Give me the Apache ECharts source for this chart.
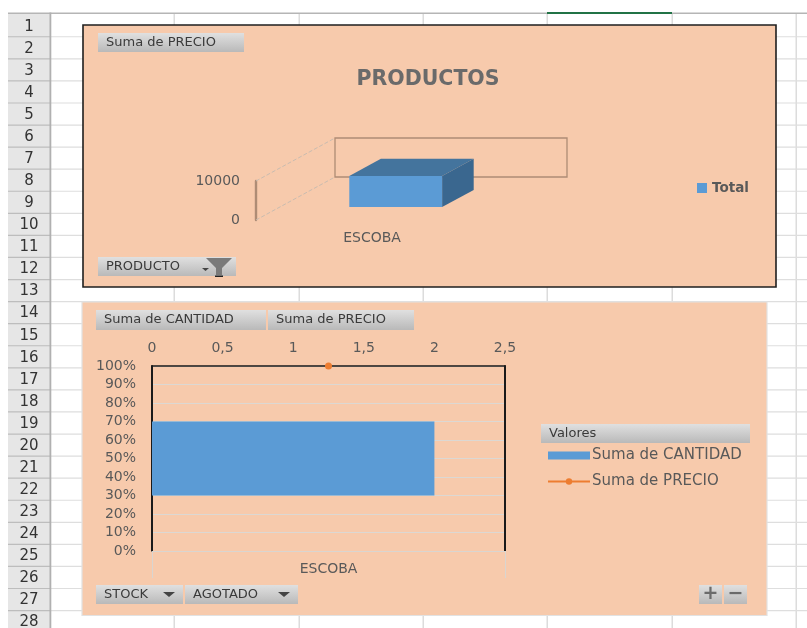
<!DOCTYPE html>
<html><head><meta charset="utf-8">
<style>html,body{margin:0;padding:0;background:#fff}#c{width:807px;height:628px;filter:blur(0.45px)}</style>
<script src="https://cdn.jsdelivr.net/npm/echarts@6/dist/echarts.min.js"></script>
</head><body><div id="c"></div>
<script>
// Data
const productCategories = ['ESCOBA'];
const precioTotals = [8000];
const cantidadValues = [2];
const precioShare = [1];
const topAxisTicks = [0, 10000];
const rowLabels = Array.from({length: 28}, (_, i) => String(i + 1));

const FONT = 'DejaVu Sans';
const TXT = '#595959';
const PANEL = '#f7caac';
const BLUE = '#5b9bd5';
const ORANGE = '#ed7d31';
const chart = echarts.init(document.getElementById('c'), null, {renderer: 'canvas'});

// Spreadsheet chrome and pivot buttons
const g = [];
const Z = -20;
const btnFill = new echarts.graphic.LinearGradient(0, 0, 0, 1, [{offset: 0, color: '#e0e0e0'}, {offset: 1, color: '#b9b9b9'}]);
function rect(x, y, w, h, fill, stroke, lw, z) {
  g.push({type: 'rect', z: z === undefined ? Z : z, shape: {x, y, width: w, height: h}, style: {fill: fill || 'none', stroke: stroke || null, lineWidth: lw || 0}, silent: true});
}
function text(x, y, t, size, color, align, weight) {
  g.push({type: 'text', z: Z + 5, x, y, style: {text: t, font: (weight || 'normal') + ' ' + size + 'px "' + FONT + '"', fill: color, align: align || 'left', verticalAlign: 'middle'}, silent: true});
}
function poly(points, fill) {
  g.push({type: 'polygon', z: Z + 5, shape: {points}, style: {fill}, silent: true});
}
function button(x, y, w, h, label) {
  rect(x, y, w, h, btnFill, null, 0, Z + 4);
  if (label) text(x + 8, y + h / 2, label, 13, '#3a3a3a');
}
rect(8, 14, 42, 614, '#e6e6e6');
[174, 299, 423, 547, 672, 796].forEach(x => rect(x - 0.5, 14, 1.5, 614, '#dcdcdc'));
rowLabels.forEach((r, i) => {
  const y = 14.6 + 22.07 * (i + 1);
  rect(50, y - 0.5, 757, 1.2, '#dedede');
  rect(8, y - 0.5, 42, 1.2, '#bdbdbd');
  text(29, y - 10, r, 15, '#333', 'center');
});
rect(8, 12.5, 799, 1.6, '#b5b5b5');
rect(547, 12, 125, 2, '#217346', null, 0, Z + 1);
rect(49.5, 12.5, 1.8, 616, '#b0b0b0');

rect(83, 25, 693, 262, PANEL, '#1f1f1f', 1.6, Z + 2);
rect(82, 302, 685, 313.5, PANEL, '#e2e2e2', 1.2, Z + 2);

button(98, 33, 146, 19, 'Suma de PRECIO');
button(98, 257, 138, 19, 'PRODUCTO');
poly([[206, 258], [232, 258], [222, 268], [222, 275], [216, 275], [216, 268]], '#7a7a7a');
poly([[202, 268], [209, 268], [205.5, 271]], '#444');
rect(215, 275.5, 8, 1.5, '#222', null, 0, Z + 5);
button(96, 310, 170, 20, 'Suma de CANTIDAD');
button(268, 310, 146, 20, 'Suma de PRECIO');
button(96, 585, 87, 19, 'STOCK');
poly([[163, 592], [175, 592], [169, 597]], '#444');
button(185, 585, 113, 19, 'AGOTADO');
poly([[278, 592], [290, 592], [284, 597]], '#444');
button(541, 424, 209, 19, 'Valores');
button(699, 585, 23, 19);
button(724, 585, 23, 19);
text(710.5, 594.5, '+', 19, '#6b6b6b', 'center', 'bold');
text(735.5, 594, '−', 19, '#6b6b6b', 'center', 'bold');

// Oblique offset of the pseudo-3D plot
const DEPTH_X = 79, DEPTH_Y = 43, WALL = '#ae8c75';

function renderWall(params, api) {
  const lo = api.coord([0, 0]);
  const hi = api.coord([0, topAxisTicks[1]]);
  const band = api.size([1, 0])[0];
  const fx = lo[0] - band / 2;
  const wall = {x: fx + DEPTH_X, y: hi[1] - DEPTH_Y, width: band, height: lo[1] - hi[1]};
  const dash = {stroke: '#c9bcb0', lineWidth: 1, lineDash: [4, 2]};
  return {type: 'group', children: [
    {type: 'rect', shape: wall, style: {fill: 'none', stroke: WALL, lineWidth: 1.3}},
    {type: 'line', shape: {x1: fx, y1: hi[1], x2: fx + DEPTH_X, y2: hi[1] - DEPTH_Y}, style: dash},
    {type: 'line', shape: {x1: fx, y1: lo[1], x2: fx + DEPTH_X, y2: lo[1] - DEPTH_Y}, style: dash}
  ]};
}
function renderBar3D(params, api) {
  const base = api.coord([api.value(0), 0]);
  const top = api.coord([api.value(0), api.value(1)]);
  const band = api.size([1, 0])[0];
  const w = band * 0.4, ox = DEPTH_X * 0.3, oy = DEPTH_Y * 0.3, dx = DEPTH_X * 0.4, dy = DEPTH_Y * 0.4;
  const l = base[0] - w / 2 + ox, r = l + w, b = base[1] - oy, t = top[1] - oy;
  return {type: 'group', children: [
    {type: 'polygon', shape: {points: [[l, t], [l + dx, t - dy], [r + dx, t - dy], [r, t]]}, style: {fill: '#44749d'}},
    {type: 'polygon', shape: {points: [[r, t], [r + dx, t - dy], [r + dx, b - dy], [r, b]]}, style: {fill: '#3a678f'}},
    {type: 'rect', shape: {x: l, y: t, width: w, height: b - t}, style: {fill: BLUE}}
  ]};
}

const labelStyle = {color: TXT, fontFamily: FONT, fontSize: 14};

chart.setOption({
  animation: false,
  backgroundColor: '#ffffff',
  graphic: {elements: g},
  title: {text: 'PRODUCTOS', left: 428, top: 69, padding: 0, textAlign: 'center',
    textStyle: {color: '#6a6a6a', fontFamily: FONT, fontSize: 20.5, fontWeight: 'bold'}},
  legend: [
    {data: [{name: 'Total', icon: 'rect'}], left: 692, top: 176, itemWidth: 10, itemHeight: 10, itemGap: 0,
      textStyle: {color: TXT, fontFamily: FONT, fontSize: 13.5, fontWeight: 'bold', padding: [-3, 0, 0, 0]}},
    {data: [{name: 'Suma de CANTIDAD', icon: 'rect'}, {name: 'Suma de PRECIO'}], orient: 'vertical', left: 547, top: 448, padding: 0, itemGap: 11,
      itemWidth: 42, itemHeight: 8,
      textStyle: {color: TXT, fontFamily: FONT, fontSize: 15, padding: [0, 0, 0, -3]}}
  ],
  grid: [
    {left: 256, top: 181, width: 232, height: 39},
    {left: 152, top: 366, width: 353, height: 185}
  ],
  xAxis: [
    {type: 'category', gridIndex: 0, data: productCategories, position: 'bottom',
      axisLine: {show: false}, axisTick: {show: false}, axisLabel: {...labelStyle, margin: 11}},
    {type: 'value', gridIndex: 1, position: 'top', min: 0, max: 2.5, interval: 0.5,
      axisLine: {show: true, onZero: false, lineStyle: {color: '#1a1a1a', width: 1.6}}, axisTick: {show: false}, splitLine: {show: false},
      axisLabel: {...labelStyle, margin: 11, formatter: v => String(v).replace('.', ',')}},
    {type: 'category', gridIndex: 1, data: productCategories, position: 'bottom',
      axisLine: {show: true, onZero: false, lineStyle: {color: '#d9d5d0', width: 1}},
      axisTick: {show: true, length: 27, lineStyle: {color: '#d9d5d0', width: 1}},
      axisLabel: {...labelStyle, margin: 11}}
  ],
  yAxis: [
    {type: 'value', gridIndex: 0, min: topAxisTicks[0], max: topAxisTicks[1], interval: topAxisTicks[1],
      axisLine: {show: true, onZero: false, lineStyle: {color: WALL, width: 2.4}}, axisTick: {show: false}, splitLine: {show: false},
      axisLabel: {...labelStyle, margin: 16, formatter: v => String(v)}},
    {type: 'value', gridIndex: 1, min: 0, max: 1, interval: 0.1, position: 'left',
      axisLine: {show: true, onZero: false, lineStyle: {color: '#1a1a1a', width: 2}}, axisTick: {show: false},
      splitLine: {show: true, lineStyle: {color: '#dcd8d3', width: 1}},
      axisLabel: {...labelStyle, margin: 16, formatter: v => Math.round(v * 100) + '%'}},
    {type: 'category', gridIndex: 1, data: productCategories, position: 'right',
      axisLine: {show: true, onZero: false, lineStyle: {color: '#1a1a1a', width: 2}}, axisTick: {show: false}, axisLabel: {show: false}}
  ],
  series: [
    {type: 'custom', name: 'wall', xAxisIndex: 0, yAxisIndex: 0, data: [[0, 0]], renderItem: renderWall, silent: true, z: 1},
    {type: 'custom', name: 'Total', xAxisIndex: 0, yAxisIndex: 0, itemStyle: {color: BLUE},
      data: precioTotals.map((v, i) => [i, v]), encode: {x: 0, y: 1}, renderItem: renderBar3D, z: 2},
    {type: 'bar', name: 'Suma de CANTIDAD', xAxisIndex: 1, yAxisIndex: 2, data: cantidadValues, barWidth: '40%', itemStyle: {color: BLUE}},
    {type: 'line', name: 'Suma de PRECIO', xAxisIndex: 2, yAxisIndex: 1, data: precioShare, symbol: 'circle', symbolSize: 7, clip: false,
      itemStyle: {color: ORANGE}, lineStyle: {color: ORANGE, width: 2}, z: 5}
  ]
});
</script></body></html>
